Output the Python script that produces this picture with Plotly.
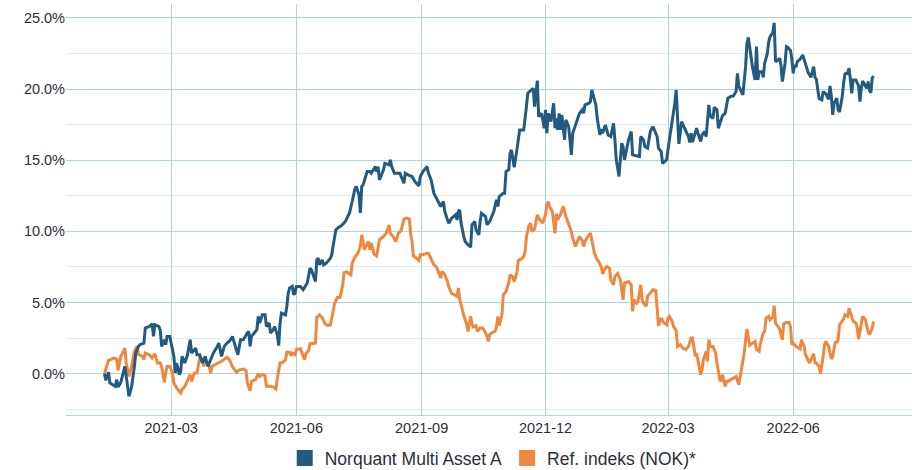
import pandas as pd
import plotly.graph_objects as go

# ---------------- data ----------------
start_date = "2021-01-11"          # day 0 of both series
fund_name = "Norquant Multi Asset A"
ref_name = "Ref. indeks (NOK)*"

fund_days = [
    0, 1, 3, 4, 6, 8, 9, 10, 12, 14,
    15, 17, 18, 19, 20, 22, 23, 25, 26, 29,
    30, 33, 35, 36, 37, 40, 41, 42, 44, 45,
    46, 48, 50, 51, 52, 53, 55, 56, 57, 59,
    61, 63, 64, 67, 68, 70, 72, 74, 76, 78,
    80, 83, 84, 86, 88, 90, 92, 94, 96, 98,
    100, 102, 105, 106, 107, 108, 112, 113, 114, 116,
    118, 119, 121, 122, 124, 125, 127, 128, 129, 130,
    133, 134, 135, 136, 138, 139, 140, 141, 144, 146,
    149, 150, 151, 152, 154, 155, 156, 157, 158, 160,
    161, 163, 166, 167, 168, 170, 172, 174, 177, 180,
    182, 183, 184, 185, 187, 188, 189, 190, 193, 195,
    196, 199, 200, 201, 202, 205, 206, 209, 210, 211,
    213, 217, 220, 221, 223, 226, 228, 231, 232, 234,
    237, 238, 240, 242, 244, 247, 249, 250, 252, 253,
    255, 258, 259, 260, 261, 262, 264, 265, 267, 269,
    270, 272, 273, 275, 276, 277, 280, 281, 283, 286,
    288, 289, 290, 293, 294, 295, 297, 298, 299, 300,
    301, 303, 304, 305, 308, 309, 310, 311, 314, 315,
    316, 317, 318, 319, 321, 322, 323, 324, 325, 326,
    328, 330, 331, 332, 333, 334, 335, 336, 337, 338,
    339, 341, 342, 343, 344, 347, 349, 351, 352, 353,
    356, 357, 358, 359, 361, 362, 364, 365, 366, 368,
    370, 372, 374, 375, 376, 378, 379, 380, 381, 382,
    385, 387, 388, 391, 393, 394, 396, 397, 399, 401,
    403, 404, 406, 407, 409, 410, 412, 413, 415, 417,
    419, 420, 421, 422, 424, 425, 427, 429, 430, 431,
    432, 433, 435, 436, 438, 439, 441, 442, 443, 444,
    445, 447, 448, 450, 451, 452, 454, 456, 458, 460,
    462, 464, 465, 466, 468, 469, 471, 472, 473, 474,
    475, 476, 478, 479, 480, 481, 483, 484, 485, 487,
    488, 489, 491, 492, 493, 495, 496, 497, 498, 500,
    501, 502, 504, 505, 506, 507, 508, 509, 511, 513,
    514, 516, 517, 519, 520, 521, 522, 523, 524, 525,
    527, 528, 530, 531, 532, 533, 534, 535, 536, 538,
    539, 540, 542, 543, 544, 546, 547, 548, 549, 550,
    552, 554, 555, 556, 557, 559, 560, 561, 562, 563,
    564, 565,
]
fund_values = [
    0.0, -0.47, 0.1, -0.65, -0.77, -0.89, -0.42, -0.94, -0.61, 0.05,
    0.51, -0.89, -1.59, -1.24, -0.89, 0.51, 1.45, 1.92, 2.04, 2.15,
    3.21, 3.32, 3.51, 2.62, 3.44, 3.32, 3.04, 1.92, 2.39, 2.04,
    2.62, 2.62, 1.8, 1.22, 0.05, 0.75, -0.07, 0.16, 1.22, 0.75,
    1.33, 2.39, 1.45, 1.8, 1.33, 1.33, 0.75, 1.22, 0.51, 0.98,
    1.45, 1.92, 2.15, 1.22, 1.92, 2.15, 2.3, 2.62, 1.92, 1.33,
    2.39, 2.39, 2.86, 2.97, 1.92, 2.62, 3.09, 4.03, 3.56, 4.14,
    4.14, 3.32, 3.56, 2.86, 3.09, 3.32, 2.74, 1.97, 3.56, 4.26,
    4.14, 4.73, 5.66, 6.02, 6.13, 5.55, 5.66, 6.13, 6.13, 5.9,
    6.37, 7.07, 7.42, 7.3, 6.72, 6.48, 8.0, 8.12, 7.65, 8.0,
    7.65, 7.77, 8.12, 8.36, 9.0, 10.1, 10.3, 10.4, 10.7, 11.3,
    12.1, 12.5, 13.0, 13.16, 12.57, 11.3, 13.16, 13.27, 14.21, 14.21,
    14.09, 14.56, 14.21, 14.56, 13.62, 14.33, 14.79, 14.68, 15.03, 14.56,
    14.09, 14.09, 13.39, 14.09, 13.97, 13.86, 13.51, 13.2, 13.86, 14.21,
    14.56, 14.09, 13.62, 12.69, 12.34, 11.75, 12.1, 11.4, 10.81, 10.58,
    10.93, 11.17, 10.81, 11.4, 11.52, 10.58, 9.64, 9.29, 9.06, 8.9,
    10.46, 10.7, 10.11, 9.76, 10.7, 11.28, 11.05, 10.46, 10.7, 11.4,
    12.22, 11.75, 12.45, 12.69, 12.69, 14.21, 14.33, 15.5, 15.73, 15.03,
    14.51, 15.73, 16.43, 17.13, 17.13, 17.84, 18.77, 19.71, 19.99, 20.06,
    18.77, 19.71, 20.6, 18.07, 18.3, 17.84, 17.25, 18.54, 16.9, 18.3,
    17.72, 19.01, 17.25, 17.95, 17.13, 18.3, 17.13, 18.19, 17.37, 16.43,
    17.84, 17.37, 16.43, 15.38, 16.9, 17.72, 18.3, 18.54, 18.3, 18.89,
    19.01, 19.12, 19.94, 19.59, 18.89, 17.95, 16.78, 17.2, 16.9, 17.49,
    16.78, 16.67, 17.6, 16.43, 15.03, 13.86, 15.03, 16.2, 15.96, 15.03,
    16.43, 17.02, 15.38, 15.31, 15.26, 16.67, 16.43, 15.96, 15.85, 17.02,
    17.37, 17.13, 16.67, 15.85, 15.61, 14.79, 14.91, 15.03, 16.43, 17.6,
    19.01, 19.94, 18.3, 16.15, 17.72, 17.49, 17.02, 16.67, 16.25, 16.9,
    16.27, 16.67, 17.25, 16.9, 16.32, 16.78, 17.02, 16.67, 18.07, 18.89,
    18.12, 17.95, 18.73, 18.54, 17.25, 17.6, 18.12, 18.31, 19.36, 19.48,
    19.52, 19.83, 21.11, 20.22, 19.76, 19.59, 21.58, 23.22, 23.64, 23.1,
    22.28, 21.58, 20.65, 22.99, 20.65, 21.23, 21.23, 20.83, 21.82, 22.52,
    23.34, 23.69, 23.97, 24.67, 21.93, 22.05, 22.17, 21.7, 20.53, 21.82,
    22.99, 22.94, 22.71, 22.1, 21.11, 21.7, 21.54, 21.93, 22.1, 22.4,
    22.05, 21.35, 21.16, 20.83, 21.16, 21.58, 20.83, 20.69, 19.99, 19.34,
    19.24, 19.83, 19.66, 19.48, 19.29, 20.22, 19.48, 18.19, 19.01, 19.36,
    18.54, 18.4, 19.48, 20.41, 21.07, 21.16, 21.47, 20.65, 19.71, 20.65,
    20.65, 20.22, 19.12, 20.06, 20.57, 20.22, 20.06, 20.53, 19.9, 19.76,
    20.76, 20.93,
]

ref_days = [
    0, 2, 3, 7, 9, 10, 11, 12, 14, 15,
    16, 18, 20, 22, 24, 25, 28, 29, 30, 33,
    35, 37, 39, 41, 42, 44, 45, 46, 48, 50,
    51, 53, 56, 57, 59, 61, 63, 64, 66, 68,
    69, 70, 72, 73, 74, 77, 78, 79, 81, 84,
    86, 90, 92, 94, 97, 99, 102, 104, 105, 107,
    108, 111, 113, 114, 116, 118, 119, 122, 124, 126,
    127, 129, 131, 133, 134, 136, 137, 138, 140, 141,
    144, 145, 147, 148, 150, 151, 154, 155, 156, 158,
    160, 162, 164, 166, 167, 169, 171, 173, 175, 176,
    178, 180, 181, 182, 184, 186, 188, 189, 190, 191,
    192, 194, 195, 196, 198, 200, 202, 205, 207, 209,
    210, 212, 214, 216, 218, 220, 222, 224, 225, 226,
    227, 229, 231, 232, 234, 237, 238, 240, 242, 244,
    245, 247, 248, 250, 252, 253, 255, 257, 259, 260,
    261, 263, 264, 266, 267, 268, 269, 270, 271, 273,
    274, 276, 278, 280, 281, 282, 283, 285, 287, 288,
    289, 290, 292, 293, 295, 297, 298, 300, 301, 303,
    304, 306, 308, 309, 310, 312, 313, 314, 316, 318,
    319, 321, 322, 324, 325, 326, 327, 329, 331, 332,
    333, 335, 336, 337, 339, 340, 341, 343, 344, 346,
    347, 349, 351, 352, 353, 355, 357, 358, 359, 360,
    362, 363, 365, 366, 368, 369, 371, 372, 374, 375,
    377, 379, 380, 381, 382, 385, 387, 388, 389, 391,
    392, 394, 395, 396, 398, 399, 401, 403, 405, 406,
    407, 409, 411, 413, 414, 415, 417, 418, 420, 421,
    423, 425, 427, 429, 431, 432, 433, 434, 435, 436,
    438, 439, 440, 442, 443, 444, 445, 447, 449, 450,
    452, 453, 454, 456, 457, 458, 460, 463, 464, 466,
    468, 470, 471, 472, 474, 476, 478, 479, 481, 482,
    484, 485, 486, 488, 489, 491, 492, 493, 495, 496,
    498, 499, 501, 503, 504, 505, 506, 508, 510, 511,
    512, 514, 515, 516, 518, 519, 521, 522, 523, 525,
    526, 528, 529, 530, 532, 533, 534, 535, 537, 538,
    539, 540, 542, 543, 544, 546, 547, 548, 549, 550,
    552, 553, 554, 556, 557, 559, 560, 561, 562, 564,
    565,
]
ref_values = [
    0.0, 0.75, 0.94, 1.1, 1.03, 0.23, 0.75, 1.22, 1.57, 1.8,
    0.75, -0.19, 0.51, 1.57, 1.92, 1.33, 1.22, 0.98, 1.45, 1.33,
    1.1, 1.4, 0.75, 0.75, 0.51, -0.61, 0.05, 0.51, 0.51, 0.05,
    -0.65, -1.0, -1.36, -1.12, -0.89, -0.42, -0.07, -0.54, 0.05, 0.05,
    0.51, 1.1, 0.98, 0.51, 0.98, 0.51, 0.05, 0.51, 0.63, 0.75,
    0.87, 1.15, 0.95, 0.5, 0.1, 0.25, 0.33, 0.23, -0.66, -1.2,
    -0.54, -0.42, 0.0, -0.19, -0.07, -0.14, -0.89, -0.89, -0.94, -1.08,
    -0.3, 0.75, 0.8, 0.98, 1.5, 1.5, 1.26, 1.45, 1.33, 1.69,
    1.75, 1.5, 0.98, 1.4, 1.64, 2.1, 2.1, 2.15, 3.95, 4.14,
    3.95, 3.5, 3.4, 3.44, 3.9, 4.9, 5.35, 5.35, 6.2, 7.1,
    7.15, 7.0, 6.95, 7.77, 8.2, 8.45, 8.94, 9.76, 9.18, 8.71,
    8.94, 9.29, 8.71, 9.18, 8.43, 8.29, 9.41, 9.64, 9.88, 10.46,
    9.88, 9.64, 9.29, 9.88, 10.07, 10.86, 10.93, 10.86, 9.76, 9.29,
    8.29, 8.12, 7.96, 8.36, 8.36, 8.47, 8.47, 8.05, 7.65, 7.49,
    7.26, 6.72, 7.19, 6.95, 6.48, 6.09, 5.66, 5.55, 5.43, 6.02,
    5.2, 4.49, 4.07, 3.51, 2.97, 3.44, 4.03, 3.51, 3.28, 3.37,
    2.97, 3.21, 3.21, 2.86, 2.67, 2.27, 2.74, 2.9, 2.97, 3.28,
    4.03, 3.37, 4.14, 5.55, 5.78, 6.37, 6.95, 6.79, 6.48, 7.12,
    7.96, 8.05, 8.24, 8.59, 9.64, 10.46, 10.58, 10.0, 10.16, 11.17,
    10.93, 10.7, 10.58, 11.17, 11.87, 12.1, 11.75, 11.4, 9.88, 11.24,
    10.81, 11.17, 11.52, 11.75, 11.05, 10.77, 10.46, 10.0, 9.53, 8.94,
    9.18, 9.64, 9.36, 8.94, 9.29, 9.64, 9.88, 9.46, 8.9, 8.47,
    8.01, 7.89, 7.5, 7.02, 7.42, 7.54, 7.42, 6.6, 6.25, 6.84,
    7.05, 6.6, 5.9, 5.2, 6.37, 6.48, 6.25, 4.38, 5.2, 4.96,
    5.08, 6.25, 5.2, 4.96, 4.73, 5.43, 5.66, 5.9, 5.85, 4.26,
    3.37, 3.91, 3.56, 3.44, 3.91, 4.03, 3.68, 3.32, 3.04, 1.92,
    2.04, 1.8, 1.69, 1.92, 2.5, 2.5, 1.92, 1.22, 1.45, 0.87,
    -0.07, 0.28, 0.98, 1.57, 0.87, 2.39, 1.92, 1.92, 1.45, 0.75,
    -0.42, -0.54, -0.07, -0.89, -0.54, -0.54, -0.42, -0.3, -0.19, -0.77,
    0.28, 1.45, 2.39, 3.14, 2.0, 2.15, 2.27, 1.69, 1.57, 2.15,
    2.86, 2.97, 3.91, 4.03, 3.79, 3.98, 4.78, 3.56, 3.21, 3.14,
    2.39, 3.51, 3.6, 3.6, 3.28, 2.04, 2.15, 1.92, 1.8, 1.73,
    2.39, 1.92, 1.33, 1.1, 0.75, 0.98, 1.4, 0.75, 0.75, 0.51,
    0.0, 1.22, 2.04, 2.27, 1.92, 1.45, 1.03, 1.22, 2.27, 2.15,
    2.43, 3.44, 3.75, 3.84, 4.14, 4.03, 4.61, 4.26, 3.91, 3.68,
    3.56, 3.21, 2.43, 3.56, 4.03, 3.79, 3.28, 2.97, 2.74, 3.21,
    3.68,
]

x_tick_start = "2021-03-01"
y_major_step = 5
y_minor_step = 2.5

# ---------------- styling ----------------
fund_color = "#225a80"
ref_color = "#f0873f"
grid_major = "#acd7db"
grid_minor = "#dbeef0"
text_color = "#2d2d3a"
font_family = "Liberation Sans, Arial, sans-serif"

base = pd.Timestamp(start_date)
fund_dates = base + pd.to_timedelta(fund_days, unit="D")
ref_dates = base + pd.to_timedelta(ref_days, unit="D")

# ggplot-like 5% expansion of the axes
all_days = fund_days + ref_days
d_min, d_max = min(all_days), max(all_days)
d_pad = 0.05 * (d_max - d_min)
x_range = [base + pd.Timedelta(days=d_min - d_pad), base + pd.Timedelta(days=d_max + d_pad)]
all_vals = fund_values + ref_values
v_min, v_max = min(all_vals), max(all_vals)
v_pad = 0.05 * (v_max - v_min)
y_range = [v_min - v_pad, v_max + v_pad]

fig = go.Figure()
fig.add_trace(go.Scatter(x=ref_dates, y=ref_values, mode="lines",
                         line=dict(color=ref_color, width=3), showlegend=False,
                         name=ref_name))
fig.add_trace(go.Scatter(x=fund_dates, y=fund_values, mode="lines",
                         line=dict(color=fund_color, width=3), showlegend=False,
                         name=fund_name))
# legend keys (squares)
fig.add_trace(go.Scatter(x=[None], y=[None], mode="markers", name=fund_name,
                         marker=dict(symbol="square", size=16, color=fund_color)))
fig.add_trace(go.Scatter(x=[None], y=[None], mode="markers", name=ref_name,
                         marker=dict(symbol="square", size=16, color=ref_color)))

fig.update_layout(
    width=915, height=470,
    margin=dict(l=66, r=3, t=4, b=55, autoexpand=False),
    paper_bgcolor="white", plot_bgcolor="white",
    font=dict(family=font_family, color=text_color, size=14.5),
    showlegend=True,
    legend=dict(orientation="h", x=0.505, xanchor="center", y=-0.105, yanchor="middle",
                font=dict(size=17.5, color=text_color), itemwidth=30,
                bgcolor="rgba(0,0,0,0)"),
    xaxis=dict(type="date", range=x_range, tick0=x_tick_start, dtick="M3",
               tickformat="%Y-%m", showgrid=True, gridcolor=grid_major, gridwidth=1,
               showline=True, linecolor=grid_major, linewidth=1, zeroline=False,
               ticks="", tickfont=dict(size=14.5, color=text_color)),
    yaxis=dict(range=y_range, tick0=0, dtick=y_major_step, tickformat=".1f",
               ticksuffix="%", showgrid=True, gridcolor=grid_major, gridwidth=1,
               zeroline=False, showline=False, ticks="",
               tickfont=dict(size=14.5, color=text_color),
               minor=dict(tick0=0, dtick=y_minor_step, showgrid=True,
                          gridcolor=grid_minor, gridwidth=1)),
)

# remove the browser's default page margin so the 915x470 figure fills the window
fig.write_html("out.html",
               config={"displayModeBar": False},
               post_script="document.body.style.margin='0';document.body.style.overflow='hidden';")
